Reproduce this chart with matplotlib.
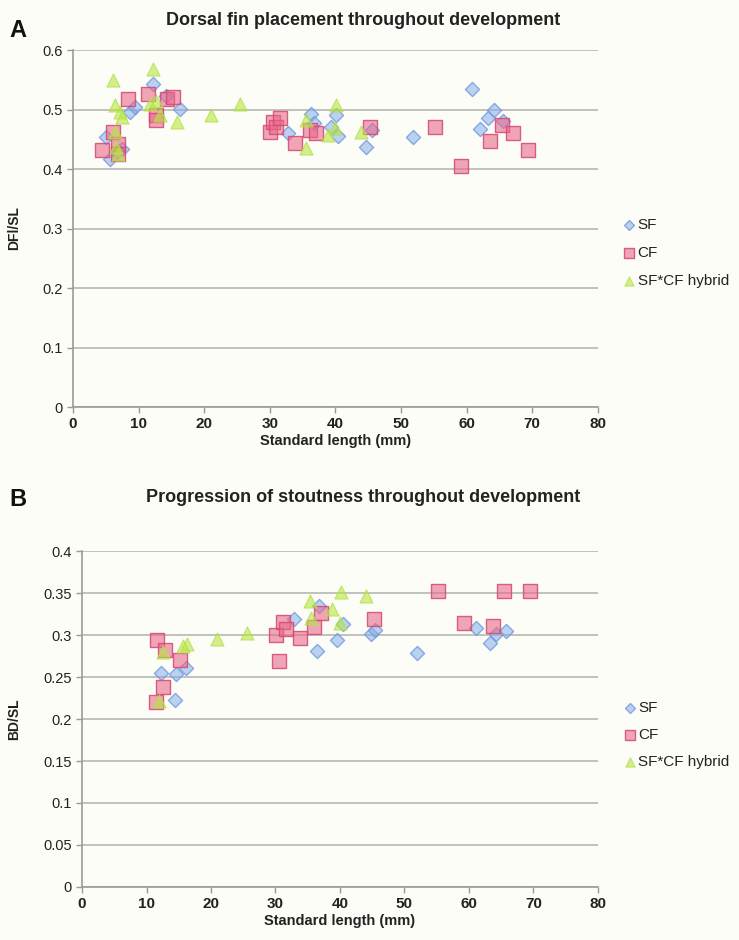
import matplotlib
matplotlib.use("Agg")
import matplotlib.pyplot as plt
from matplotlib.ticker import FuncFormatter, MultipleLocator

plt.rcParams['font.family'] = ['Liberation Sans', 'DejaVu Sans']

# ---------------- Panel A data: Dorsal fin placement (DFl/SL) ----------------
a_sf_x = [5.6, 5.1, 7.4, 6.8, 8.7, 9.4, 12.2, 14.2, 16.3, 32.8, 36.3, 36.8, 39.4,
          40.1, 40.4, 44.7, 45.5, 51.8, 60.8, 62.0, 63.2, 64.1, 65.5]
a_sf_y = [0.417, 0.454, 0.434, 0.431, 0.496, 0.504, 0.543, 0.523, 0.501, 0.460, 0.493,
          0.477, 0.471, 0.490, 0.455, 0.437, 0.465, 0.454, 0.534, 0.468, 0.486, 0.500, 0.481]

a_cf_x = [4.4, 6.1, 6.9, 6.9, 8.4, 11.5, 12.7, 12.7, 14.4, 15.3, 30.0, 30.5, 31.0, 31.5,
          33.8, 36.1, 37.0, 45.2, 55.2, 59.2, 63.6, 65.4, 67.1, 69.3]
a_cf_y = [0.432, 0.462, 0.442, 0.426, 0.518, 0.526, 0.490, 0.482, 0.518, 0.521, 0.463,
          0.479, 0.471, 0.485, 0.443, 0.466, 0.461, 0.471, 0.471, 0.405, 0.447, 0.474,
          0.460, 0.432]

a_hy_x = [6.1, 6.4, 7.2, 7.4, 6.4, 6.6, 6.9, 12.2, 11.7, 12.7, 13.2, 15.8, 21.1, 25.4,
          35.5, 35.5, 38.9, 39.9, 40.1, 43.9]
a_hy_y = [0.549, 0.507, 0.496, 0.487, 0.462, 0.437, 0.426, 0.568, 0.509, 0.515, 0.490,
          0.479, 0.490, 0.509, 0.482, 0.435, 0.457, 0.469, 0.507, 0.463]

# ---------------- Panel B data: Stoutness (BD/SL) ----------------
b_sf_x = [12.2, 14.6, 16.1, 14.4, 32.9, 36.8, 36.4, 39.5, 40.5, 44.8, 45.5, 51.9,
          61.1, 63.3, 64.2, 65.7]
b_sf_y = [0.255, 0.254, 0.261, 0.223, 0.319, 0.335, 0.281, 0.294, 0.313, 0.301, 0.306,
          0.279, 0.308, 0.290, 0.301, 0.305]

b_cf_x = [11.6, 12.9, 15.2, 12.6, 11.4, 30.1, 30.5, 31.1, 31.6, 33.8, 36.0, 37.0,
          45.3, 55.2, 59.2, 63.7, 65.4, 69.4]
b_cf_y = [0.294, 0.282, 0.270, 0.238, 0.220, 0.300, 0.269, 0.316, 0.307, 0.297, 0.310,
          0.326, 0.319, 0.352, 0.314, 0.311, 0.353, 0.352]

b_hy_x = [12.6, 11.9, 15.7, 16.3, 20.9, 25.6, 35.3, 35.5, 38.8, 40.0, 40.2, 44.0]
b_hy_y = [0.280, 0.222, 0.287, 0.289, 0.295, 0.302, 0.340, 0.320, 0.331, 0.314, 0.351, 0.347]

series_labels = ["SF", "CF", "SF*CF hybrid"]

BG = "#fdfdf8"
GRID = "#bdbdb8"
TXT = "#222222"

fig = plt.figure(figsize=(7.39, 9.40), dpi=100, facecolor=BG)

styles = [
    dict(marker="D", s=52, facecolor=(0.52, 0.68, 0.92, 0.55), edgecolor=(0.45, 0.60, 0.87, 0.8), linewidths=1.0),
    dict(marker="s", s=100, facecolor=(0.91, 0.40, 0.53, 0.58), edgecolor=(0.84, 0.28, 0.45, 0.85), linewidths=1.0),
    dict(marker="^", s=88, facecolor=(0.72, 0.90, 0.25, 0.60), edgecolor=(0.70, 0.88, 0.30, 0.8), linewidths=0.8),
]


def style_axes(ax, ymax, ystep):
    ax.set_facecolor(BG)
    ax.set_xlim(0, 80)
    ax.set_ylim(0, ymax)
    ax.xaxis.set_major_locator(MultipleLocator(10))
    ax.yaxis.set_major_locator(MultipleLocator(ystep))
    ax.yaxis.set_major_formatter(FuncFormatter(lambda v, p: ("%.2f" % v).rstrip("0").rstrip(".") if v != 0 else "0"))
    ax.grid(axis="y", color=GRID, linewidth=1.3, zorder=0)
    ax.set_axisbelow(True)
    for s in ["top", "right"]:
        ax.spines[s].set_visible(False)
    for s in ["left", "bottom"]:
        ax.spines[s].set_color("#9a9a96")
        ax.spines[s].set_linewidth(1.2)
    ax.tick_params(axis="both", colors="#9a9a96", labelcolor=TXT, labelsize=10.5, length=4, width=1)
    ax.tick_params(axis="x", labelsize=11)
    for lab in ax.get_xticklabels():
        lab.set_fontweight("bold")


def draw(ax, xs, ys):
    handles = []
    for x, y, st, lab in zip(xs, ys, styles, series_labels):
        h = ax.scatter(x, y, zorder=3, label=lab, **st)
        handles.append(h)
    return handles


legend_kw = dict(loc="center left", frameon=False, fontsize=11, handlelength=0.8,
                 handletextpad=0.15, borderpad=0, borderaxespad=0, markerscale=0.7,
                 labelcolor=TXT)

# Panel A
axA = fig.add_axes([0.0988, 0.567, 0.7102, 0.3798])
style_axes(axA, 0.6, 0.1)
hA = draw(axA, [a_sf_x, a_cf_x, a_hy_x], [a_sf_y, a_cf_y, a_hy_y])
axA.set_xlabel("Standard length (mm)", fontsize=10.5, fontweight="bold", color=TXT, labelpad=2)
axA.set_ylabel("DFl/SL", fontsize=10, fontweight="bold", color=TXT)
axA.yaxis.set_label_coords(-0.099, 0.5)
axA.legend(handles=hA, bbox_to_anchor=(1.048, 0.431), labelspacing=0.9, **legend_kw)

# Panel B
axB = fig.add_axes([0.111, 0.0564, 0.698, 0.3574])
style_axes(axB, 0.4, 0.05)
hB = draw(axB, [b_sf_x, b_cf_x, b_hy_x], [b_sf_y, b_cf_y, b_hy_y])
axB.set_xlabel("Standard length (mm)", fontsize=10.5, fontweight="bold", color=TXT, labelpad=2)
axB.set_ylabel("BD/SL", fontsize=10, fontweight="bold", color=TXT)
axB.yaxis.set_label_coords(-0.118, 0.5)
axB.legend(handles=hB, bbox_to_anchor=(1.050, 0.452), labelspacing=0.83, **legend_kw)

fig.text(0.492, 0.978, "Dorsal fin placement throughout development", ha="center", va="center",
         fontsize=13, fontweight="bold", color=TXT)
fig.text(0.492, 0.471, "Progression of stoutness throughout development", ha="center", va="center",
         fontsize=13, fontweight="bold", color=TXT)
fig.text(0.013, 0.968, "A", ha="left", va="center", fontsize=17, fontweight="bold", color="#111111")
fig.text(0.013, 0.469, "B", ha="left", va="center", fontsize=17, fontweight="bold", color="#111111")

fig.savefig("out.png", dpi=100, facecolor=BG)
